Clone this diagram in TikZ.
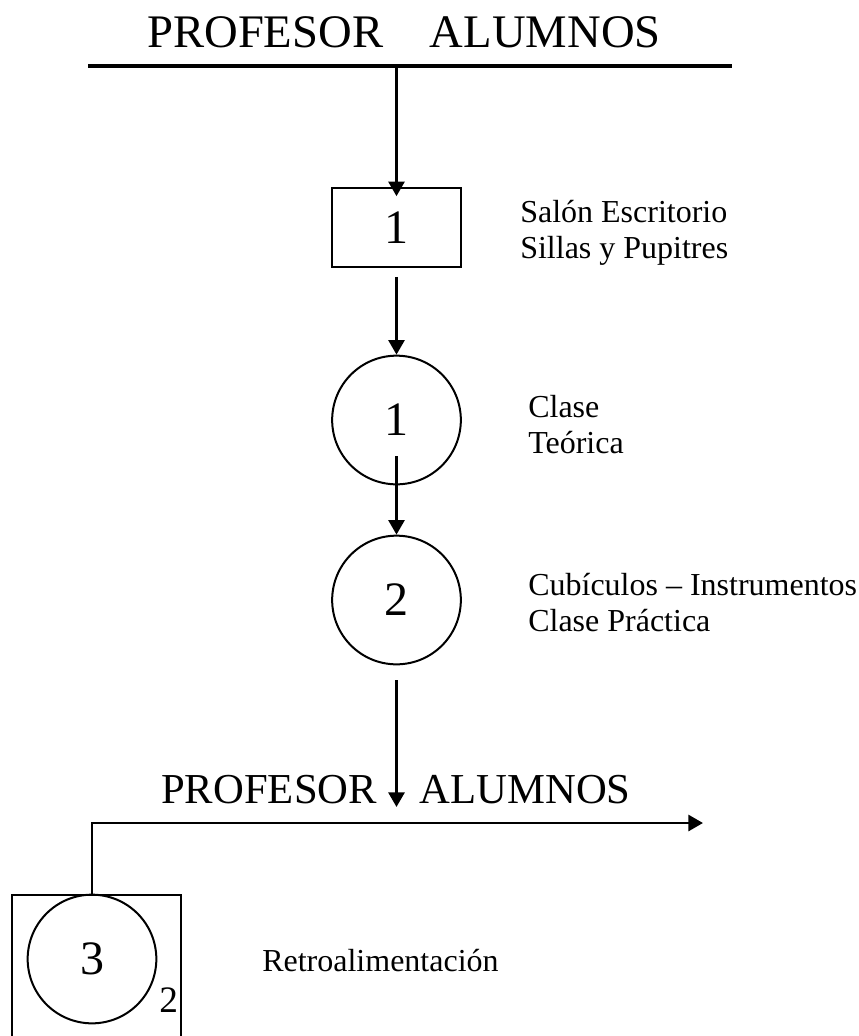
\documentclass[tikz,border=0pt]{standalone}
\usepackage{fontspec}
\setmainfont{Liberation Serif}
\usetikzlibrary{arrows.meta, positioning}
\tikzset{
  >={Triangle[width=12pt,length=11pt]},
  flow/.style={->, line width=2.2pt},
  bar/.style={line width=2.4pt},
  box/.style={rectangle, draw, line width=1.2pt, minimum width=96.75pt,
    minimum height=59.25pt, font=\fontsize{36}{40}\selectfont},
  proc/.style={circle, draw, line width=1.5pt, minimum size=96.5pt,
    inner sep=0pt, font=\fontsize{36}{40}\selectfont},
  frame/.style={rectangle, draw, line width=1.2pt, minimum width=126.75pt,
    minimum height=131.25pt},
  note/.style={anchor=north west, align=left, inner sep=0pt,
    font=\fontsize{24}{27}\selectfont},
}

\begin{document}
\begin{tikzpicture}[x=0.75pt, y=-0.75pt]
      \useasboundingbox (0,0) rectangle (859,1036);
      \clip (0,0) rectangle (859,1036);

      \node[anchor=base west, inner sep=0pt, font=\fontsize{35}{40}\selectfont] (t1) at (147,47) {PROFESOR\quad ALUMNOS};
      \coordinate (l1w) at (88,66);
      \coordinate (l1e) at (732,66);

      \node[box]  (b1) at (396.5,227.5) {1};
      \node[proc] (c1) at (396.5,420)   {1};
      \node[proc] (c2) at (396.5,600)   {2};

      \node[anchor=base west, inner sep=0pt, font=\fontsize{32}{36}\selectfont] (t2) at (161,803) {PROFESOR\quad ALUMNOS};
      \coordinate (a4)  at (396.5,807);
      \coordinate (l2e) at (703,823);

      \node[proc]  (c3) at (92,959)    {3};
      \node[frame] (f3) at (96.5,982.5) {};
      \node[anchor=base west, inner sep=0pt, font=\fontsize{28}{30}\selectfont] (n3) at (159,1012) {2};

      % textos a la derecha
      \node[note] (d1) at (520,200) {Salón Escritorio\\Sillas y Pupitres};
      \node[note] (d2) at (528,395) {Clase\\Teórica};
      \node[note] (d3) at (528,573) {Cubículos -- Instrumentos\\Clase Práctica};
      \node[anchor=base west, inner sep=0pt, font=\fontsize{24}{27}\selectfont] (d4) at (262,971) {Retroalimentación};

      \draw[bar] (l1w) -- (l1e);
      \draw[flow] (b1.north |- l1w) -- ([yshift=-6.75pt]b1.north);
      \draw[flow] ([yshift=-6.75pt]b1.south) -- (c1.north);
      \draw[flow] ([yshift=21.75pt]c1.south) -- (c2.north);
      \draw[flow] ([yshift=-11.25pt]c2.south) -- (a4);
      \draw[flow] (c3.north) -- (c3.north |- l2e) -- (l2e);
    \end{tikzpicture}
\end{document}
